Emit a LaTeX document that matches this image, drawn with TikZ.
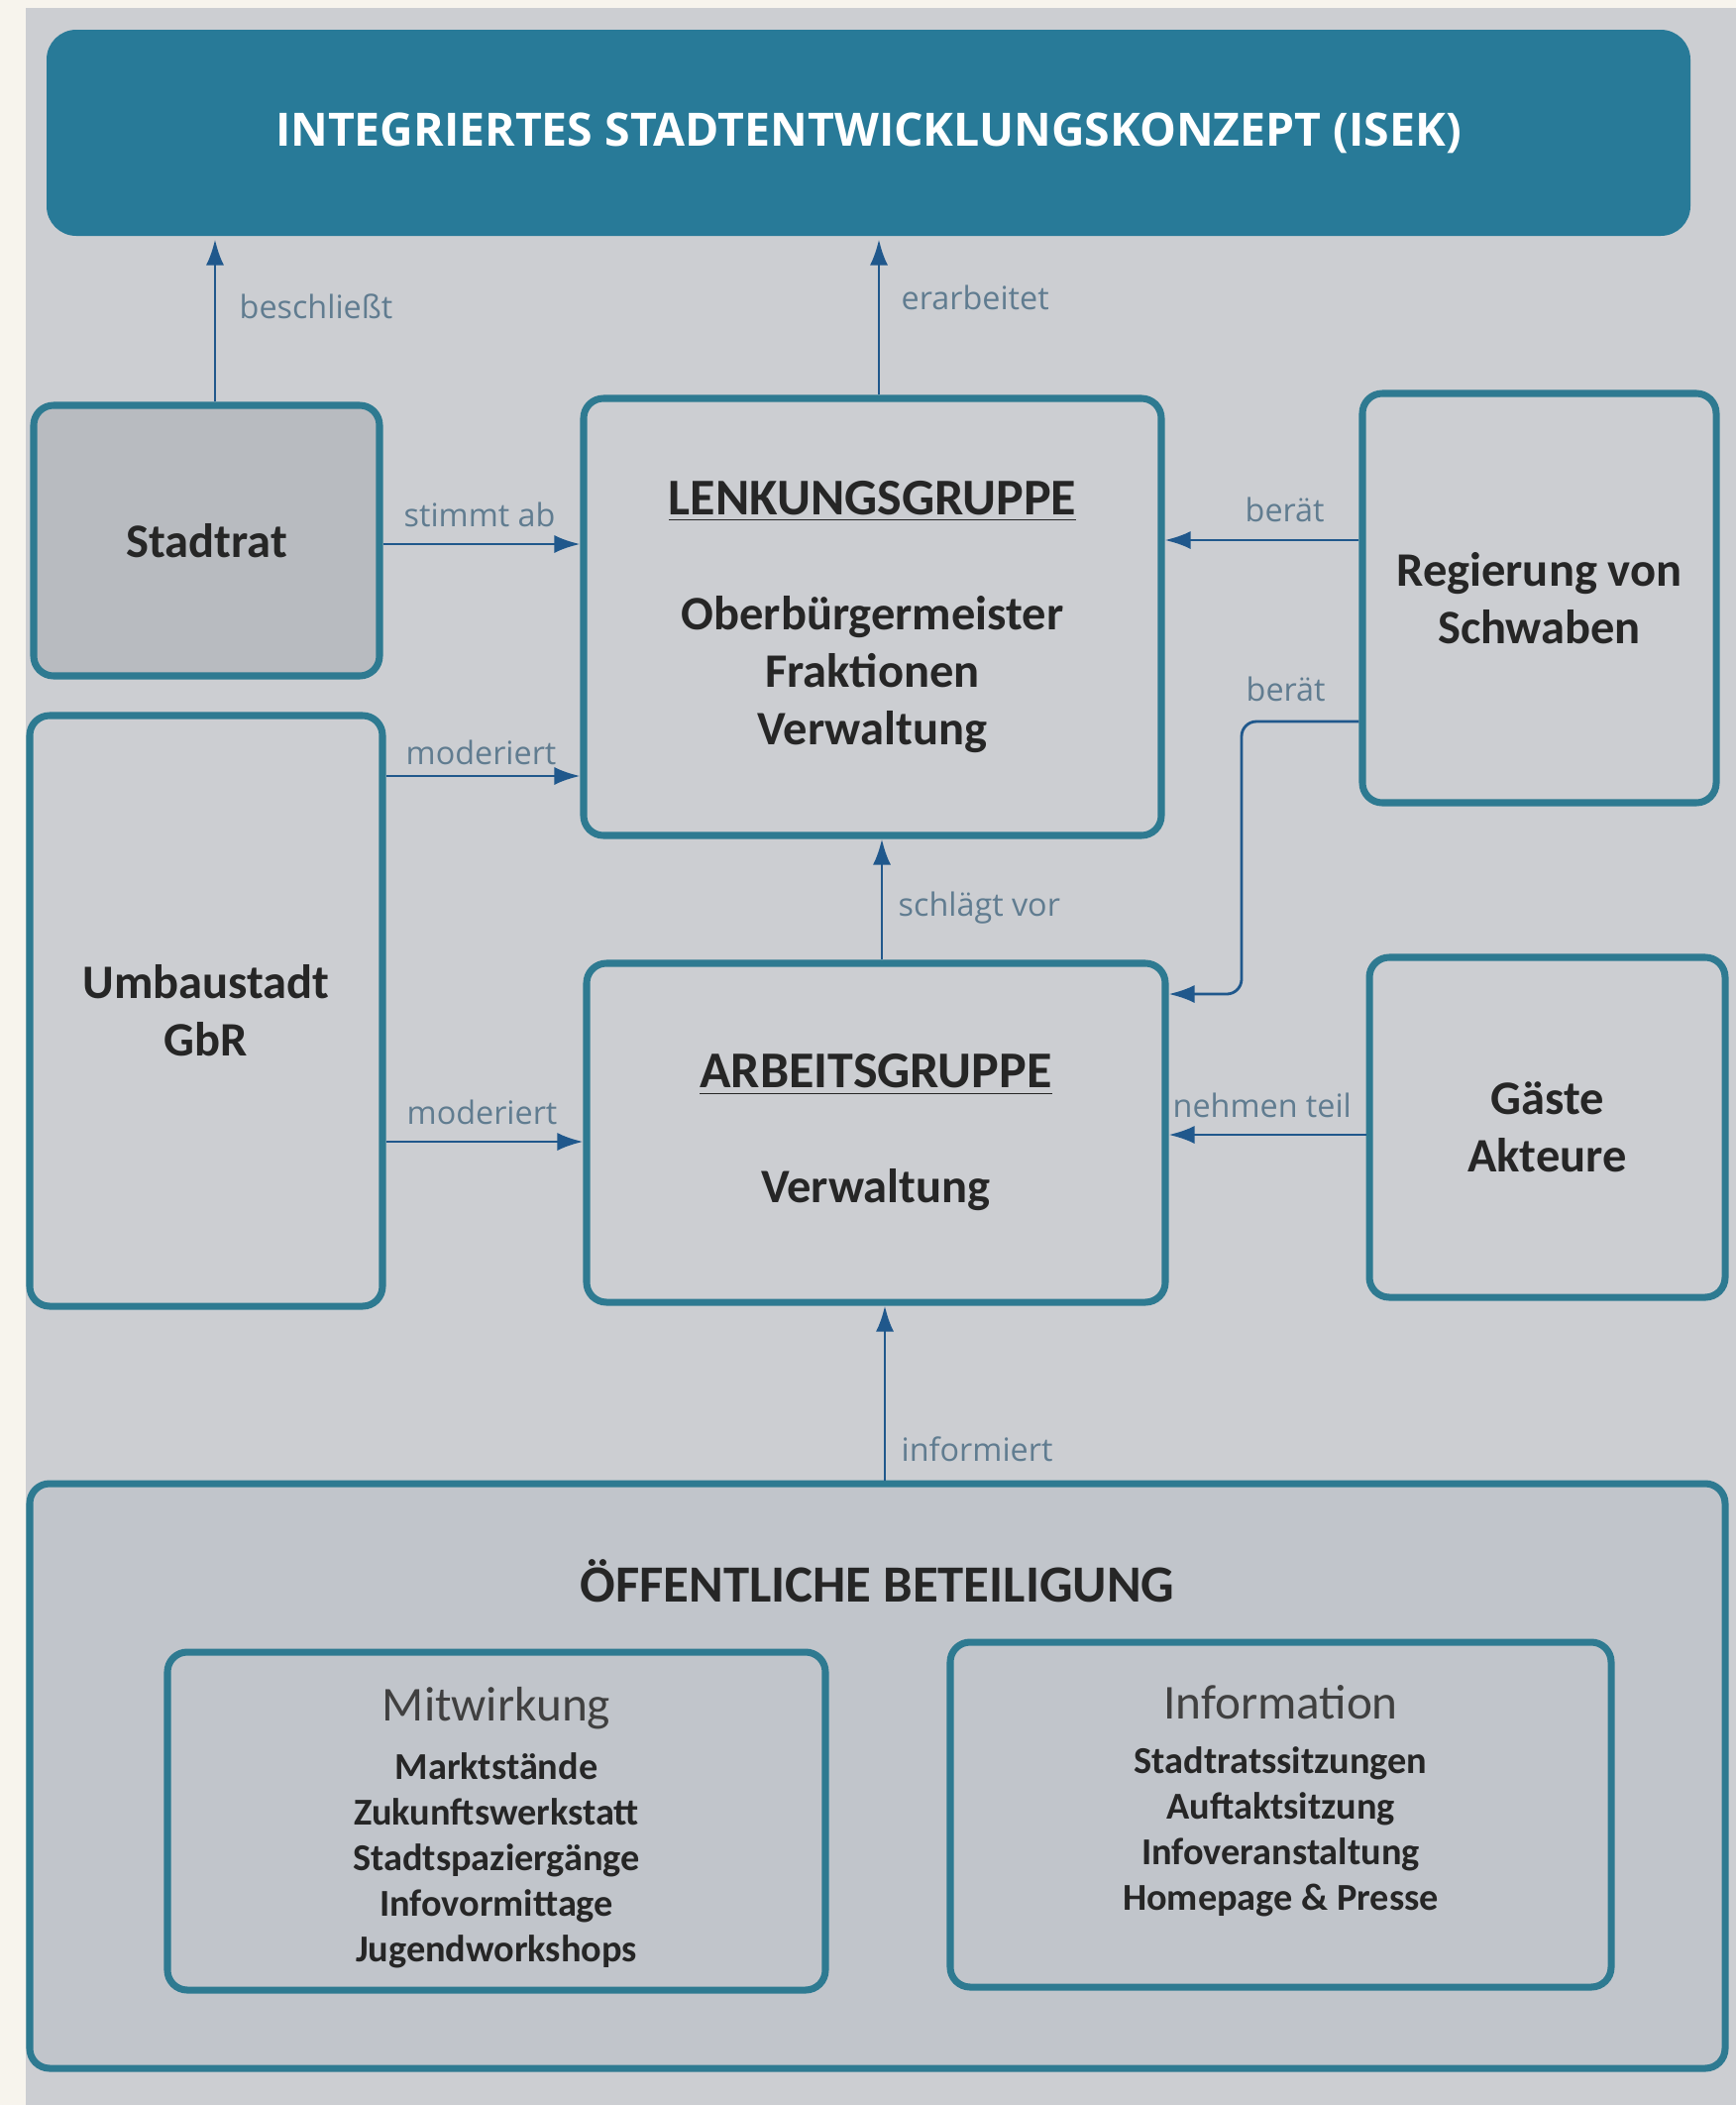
\documentclass[tikz,border=0pt]{standalone}
\usepackage{fontspec}
\setmainfont{Carlito}
\newfontfamily\opensans{Open Sans}
\usepackage{tikz}
\usetikzlibrary{arrows.meta}
\definecolor{papier}{RGB}{247,244,237}
\definecolor{hinter}{RGB}{204,206,210}
\definecolor{isekblau}{RGB}{40,122,152}
\definecolor{rahmen}{RGB}{46,122,145}
\definecolor{pfeilblau}{RGB}{32,88,140}
\definecolor{labelgrau}{RGB}{96,124,144}
\definecolor{ratgrau}{RGB}{184,187,192}
\definecolor{oeffgrau}{RGB}{193,197,203}
\def\titelgr{\fontsize{14.8}{16.5}\selectfont}
\tikzset{
	box/.style={draw=rahmen,line width=2pt,rounded corners=2mm,fill=hinter,inner sep=0pt,align=center,
		text=black!85,font=\bfseries\fontsize{13.8}{16.5}\selectfont},
	pfeil/.style={draw=pfeilblau,line width=0.8pt,-{Latex[length=2.6mm,width=1.8mm]}},
	lbl/.style={text=labelgrau,inner sep=0pt,font=\opensans\fontsize{9.2}{11}\selectfont},
	kopf/.style={text=black!75,inner sep=0pt,font=\fontsize{14}{16}\selectfont},
	liste/.style={text=black!85,inner sep=0pt,align=center,font=\bfseries\fontsize{10.9}{13.1}\selectfont},
}
\begin{document}
\begin{tikzpicture}
%HINTERGRUND
\fill[papier] (0,0) rectangle (17.52,-21.24);
\fill[hinter] (0.26,-0.08) rectangle (17.52,-21.24);
\useasboundingbox (0,0) rectangle (17.52,-21.24);
%KNOTEN
\node[box,fill=isekblau,draw=none,rounded corners=3mm,text=white,minimum width=16.59cm,minimum height=2.08cm,
	font=\opensans\bfseries\fontsize{13.2}{15}\selectfont] (isek) at (8.765,-1.34) {INTEGRIERTES STADTENTWICKLUNGSKONZEPT (ISEK)};
\node[box,fill=ratgrau,minimum width=3.49cm,minimum height=2.73cm] (rat) at (2.085,-5.455) {Stadtrat};
\node[box,minimum width=5.83cm,minimum height=4.41cm] (lg) at (8.805,-6.225)
	{{\titelgr\underline{LENKUNGSGRUPPE}}\\[16.5pt]Oberbürgermeister\\Fraktionen\\Verwaltung};
\node[box,minimum width=3.57cm,minimum height=4.13cm] (reg) at (15.535,-6.035) {Regierung von\\Schwaben};
\node[box,minimum width=3.56cm,minimum height=5.96cm] (umb) at (2.08,-10.20) {Umbaustadt\\GbR};
\node[box,minimum width=5.84cm,minimum height=3.42cm] (ag) at (8.84,-11.43) {{\titelgr\underline{ARBEITSGRUPPE}}\\[16.5pt]Verwaltung};
\node[box,minimum width=3.59cm,minimum height=3.43cm] (gast) at (15.615,-11.375) {Gäste\\Akteure};
\node[box,fill=oeffgrau,minimum width=17.11cm,minimum height=5.90cm] (oeff) at (8.855,-17.92) {};
\node[inner sep=0pt,text=black!85,font=\bfseries\fontsize{15}{17}\selectfont] (oefftitel) at (8.855,-15.95) {ÖFFENTLICHE BETEILIGUNG};
\node[box,fill=oeffgrau,minimum width=6.64cm,minimum height=3.41cm] (mitw) at (5.01,-18.375) {};
\node[box,fill=oeffgrau,minimum width=6.67cm,minimum height=3.48cm] (info) at (12.925,-18.31) {};
\node[kopf] (mitwkopf) at (5.01,-17.24) {Mitwirkung};
\node[liste] (mitwliste) at (5.01,-18.775) {Marktstände\\Zukunftswerkstatt\\Stadtspaziergänge\\Infovormittage\\Jugendworkshops};
\node[kopf] (infokopf) at (12.925,-17.18) {Information};
\node[liste] (infoliste) at (12.925,-18.485) {Stadtratssitzungen\\Auftaktsitzung\\Infoveranstaltung\\Homepage \& Presse};
%PFEILE
\draw[pfeil] (rat.north -| 2.17,0) -- (isek.south -| 2.17,0);
\draw[pfeil] (lg.north -| 8.87,0) -- (isek.south -| 8.87,0);
\draw[pfeil] (rat.east |- 0,-5.49) -- (lg.west |- 0,-5.49);
\draw[pfeil] (umb.east |- 0,-7.83) -- (lg.west |- 0,-7.83);
\draw[pfeil] (reg.west |- 0,-5.45) -- (lg.east |- 0,-5.45);
\draw[pfeil,rounded corners=1.5mm] (reg.west |- 0,-7.28) -- (12.53,-7.28) -- (12.53,-10.03) -- (ag.east |- 0,-10.03);
\draw[pfeil] (ag.north -| 8.90,0) -- (lg.south -| 8.90,0);
\draw[pfeil] (umb.east |- 0,-11.52) -- (ag.west |- 0,-11.52);
\draw[pfeil] (gast.west |- 0,-11.45) -- (ag.east |- 0,-11.45);
\draw[pfeil] (oeff.north -| 8.93,0) -- (ag.south -| 8.93,0);
%BESCHRIFTUNG
\node[lbl,anchor=mid west] (lbesch) at (2.41,-3.13) {beschließt};
\node[lbl,anchor=mid west] (lerarb) at (9.09,-3.04) {erarbeitet};
\node[lbl,anchor=mid west] (lstimmt) at (4.07,-5.23) {stimmt ab};
\node[lbl,anchor=mid west] (lmod) at (4.09,-7.63) {moderiert};
\node[lbl,anchor=mid west] (lberat) at (12.56,-5.18) {berät};
\node[lbl,anchor=mid west] (lberatb) at (12.57,-6.99) {berät};
\node[lbl,anchor=mid west] (lschlag) at (9.06,-9.16) {schlägt vor};
\node[lbl,anchor=mid west] (lmodb) at (4.10,-11.26) {moderiert};
\node[lbl,anchor=mid west] (lteil) at (11.83,-11.19) {nehmen teil};
\node[lbl,anchor=mid west] (linfo) at (9.09,-14.66) {informiert};
\end{tikzpicture}
\end{document}
